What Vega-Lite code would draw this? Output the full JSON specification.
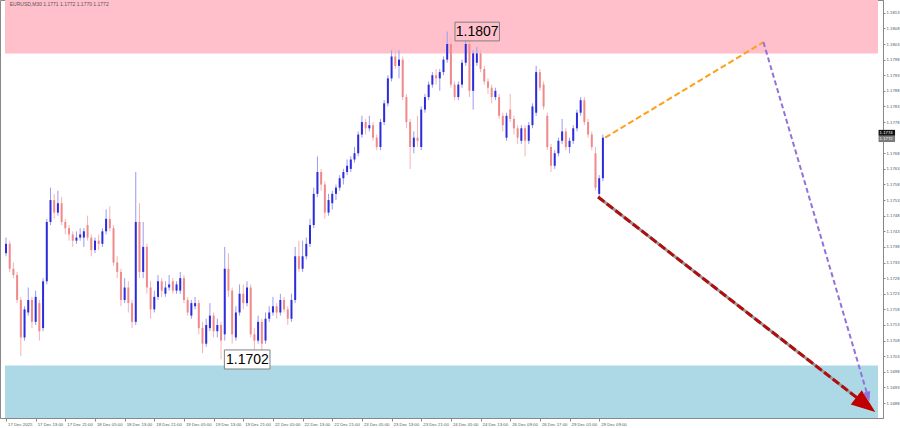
{
"$schema": "https://vega.github.io/schema/vega-lite/v6.json",
"width": 883, "height": 418,
"autosize": "none",
"padding": {"left": 0, "top": 0, "right": 17, "bottom": 10},
"background": "#ffffff",
"config": {"view": {"stroke": "#888888"}, "font": "Liberation Sans", "axis": {"labelOverlap": false}},
"resolve": {"axis": {"x": "independent", "y": "independent"}},
"datasets": {
"zones": [{"z": "sell", "p1": 1.1800, "p2": 1.18171}, {"z": "buy", "p1": 1.16832, "p2": 1.1700}],
"candles": [
{"i":0,"o":1.1736,"h":1.1741,"l":1.1735,"c":1.1739},
{"i":1,"o":1.1739,"h":1.1740,"l":1.1730,"c":1.1731},
{"i":2,"o":1.1731,"h":1.1733,"l":1.1728,"c":1.1729},
{"i":3,"o":1.1729,"h":1.1730,"l":1.1720,"c":1.1721},
{"i":4,"o":1.1721,"h":1.1722,"l":1.1703,"c":1.1709},
{"i":5,"o":1.1709,"h":1.1719,"l":1.1708,"c":1.1718},
{"i":6,"o":1.1717,"h":1.1725,"l":1.1716,"c":1.1721},
{"i":7,"o":1.1721,"h":1.1722,"l":1.1712,"c":1.1714},
{"i":8,"o":1.1714,"h":1.1724,"l":1.1713,"c":1.1722},
{"i":9,"o":1.1720,"h":1.1721,"l":1.1708,"c":1.1711},
{"i":10,"o":1.1712,"h":1.1728,"l":1.1711,"c":1.1727},
{"i":11,"o":1.1727,"h":1.1747,"l":1.1726,"c":1.1746},
{"i":12,"o":1.1746,"h":1.1757,"l":1.1745,"c":1.1753},
{"i":13,"o":1.1753,"h":1.1755,"l":1.1747,"c":1.1749},
{"i":14,"o":1.1749,"h":1.1756,"l":1.1748,"c":1.1752},
{"i":15,"o":1.1752,"h":1.1754,"l":1.1745,"c":1.1746},
{"i":16,"o":1.1746,"h":1.1747,"l":1.1742,"c":1.1744},
{"i":17,"o":1.1744,"h":1.1745,"l":1.1740,"c":1.1742},
{"i":18,"o":1.1742,"h":1.1743,"l":1.1738,"c":1.1740},
{"i":19,"o":1.1740,"h":1.1743,"l":1.1739,"c":1.1741},
{"i":20,"o":1.1741,"h":1.1744,"l":1.1740,"c":1.1742},
{"i":21,"o":1.1741,"h":1.1744,"l":1.1738,"c":1.1743},
{"i":22,"o":1.1745,"h":1.1748,"l":1.1740,"c":1.1741},
{"i":23,"o":1.1741,"h":1.1742,"l":1.1735,"c":1.1737},
{"i":24,"o":1.1737,"h":1.1741,"l":1.1736,"c":1.1740},
{"i":25,"o":1.1740,"h":1.1742,"l":1.1737,"c":1.1739},
{"i":26,"o":1.1739,"h":1.1744,"l":1.1738,"c":1.1743},
{"i":27,"o":1.1743,"h":1.1750,"l":1.1742,"c":1.1747},
{"i":28,"o":1.1747,"h":1.1751,"l":1.1743,"c":1.1744},
{"i":29,"o":1.1744,"h":1.1745,"l":1.1732,"c":1.1733},
{"i":30,"o":1.1733,"h":1.1735,"l":1.1728,"c":1.1730},
{"i":31,"o":1.1730,"h":1.1731,"l":1.1719,"c":1.1721},
{"i":32,"o":1.1721,"h":1.1728,"l":1.1720,"c":1.1725},
{"i":33,"o":1.1725,"h":1.1727,"l":1.1717,"c":1.1720},
{"i":34,"o":1.1720,"h":1.1721,"l":1.1712,"c":1.1714},
{"i":35,"o":1.1714,"h":1.1762,"l":1.1713,"c":1.1746},
{"i":36,"o":1.1746,"h":1.1752,"l":1.1728,"c":1.1730},
{"i":37,"o":1.1730,"h":1.1746,"l":1.1728,"c":1.1738},
{"i":38,"o":1.1738,"h":1.1739,"l":1.1723,"c":1.1725},
{"i":39,"o":1.1725,"h":1.1727,"l":1.1715,"c":1.1718},
{"i":40,"o":1.1718,"h":1.1724,"l":1.1717,"c":1.1722},
{"i":41,"o":1.1722,"h":1.1729,"l":1.1721,"c":1.1727},
{"i":42,"o":1.1727,"h":1.1728,"l":1.1722,"c":1.1724},
{"i":43,"o":1.1723,"h":1.1727,"l":1.1722,"c":1.1725},
{"i":44,"o":1.1725,"h":1.1729,"l":1.1724,"c":1.1726},
{"i":45,"o":1.1727,"h":1.1728,"l":1.1723,"c":1.1724},
{"i":46,"o":1.1724,"h":1.1727,"l":1.1723,"c":1.1726},
{"i":47,"o":1.1724,"h":1.1730,"l":1.1723,"c":1.1728},
{"i":48,"o":1.1728,"h":1.1729,"l":1.1720,"c":1.1721},
{"i":49,"o":1.1721,"h":1.1722,"l":1.1716,"c":1.1717},
{"i":50,"o":1.1716,"h":1.1721,"l":1.1715,"c":1.1720},
{"i":51,"o":1.1719,"h":1.1722,"l":1.1718,"c":1.1720},
{"i":52,"o":1.1720,"h":1.1721,"l":1.1710,"c":1.1712},
{"i":53,"o":1.1712,"h":1.1714,"l":1.1704,"c":1.1707},
{"i":54,"o":1.1707,"h":1.1715,"l":1.1706,"c":1.1713},
{"i":55,"o":1.1712,"h":1.1720,"l":1.1711,"c":1.1716},
{"i":56,"o":1.1716,"h":1.1717,"l":1.1709,"c":1.1711},
{"i":57,"o":1.1711,"h":1.1715,"l":1.1709,"c":1.1713},
{"i":58,"o":1.1713,"h":1.1714,"l":1.1702,"c":1.1708},
{"i":59,"o":1.1710,"h":1.1738,"l":1.1708,"c":1.1731},
{"i":60,"o":1.1731,"h":1.1736,"l":1.1722,"c":1.1724},
{"i":61,"o":1.1724,"h":1.1725,"l":1.1707,"c":1.1710},
{"i":62,"o":1.1709,"h":1.1719,"l":1.1708,"c":1.1717},
{"i":63,"o":1.1717,"h":1.1726,"l":1.1716,"c":1.1723},
{"i":64,"o":1.1723,"h":1.1726,"l":1.1718,"c":1.1720},
{"i":65,"o":1.1720,"h":1.1727,"l":1.1719,"c":1.1725},
{"i":66,"o":1.1725,"h":1.1726,"l":1.1709,"c":1.1710},
{"i":67,"o":1.1710,"h":1.1712,"l":1.1704,"c":1.1708},
{"i":68,"o":1.1708,"h":1.1716,"l":1.1707,"c":1.1714},
{"i":69,"o":1.1714,"h":1.1715,"l":1.1704,"c":1.1707},
{"i":70,"o":1.1708,"h":1.1717,"l":1.1707,"c":1.1715},
{"i":71,"o":1.1715,"h":1.1719,"l":1.1714,"c":1.1717},
{"i":72,"o":1.1717,"h":1.1722,"l":1.1716,"c":1.1719},
{"i":73,"o":1.1719,"h":1.1720,"l":1.1715,"c":1.1717},
{"i":74,"o":1.1717,"h":1.1723,"l":1.1716,"c":1.1721},
{"i":75,"o":1.1721,"h":1.1722,"l":1.1717,"c":1.1718},
{"i":76,"o":1.1718,"h":1.1719,"l":1.1713,"c":1.1715},
{"i":77,"o":1.1715,"h":1.1723,"l":1.1714,"c":1.1721},
{"i":78,"o":1.1721,"h":1.1738,"l":1.1720,"c":1.1735},
{"i":79,"o":1.1735,"h":1.1740,"l":1.1730,"c":1.1731},
{"i":80,"o":1.1731,"h":1.1740,"l":1.1730,"c":1.1735},
{"i":81,"o":1.1735,"h":1.1741,"l":1.1734,"c":1.1739},
{"i":82,"o":1.1739,"h":1.1747,"l":1.1738,"c":1.1745},
{"i":83,"o":1.1745,"h":1.1757,"l":1.1744,"c":1.1755},
{"i":84,"o":1.1755,"h":1.1767,"l":1.1754,"c":1.1762},
{"i":85,"o":1.1762,"h":1.1763,"l":1.1756,"c":1.1758},
{"i":86,"o":1.1758,"h":1.1759,"l":1.1747,"c":1.1749},
{"i":87,"o":1.1749,"h":1.1755,"l":1.1748,"c":1.1753},
{"i":88,"o":1.1752,"h":1.1756,"l":1.1750,"c":1.1755},
{"i":89,"o":1.1755,"h":1.1758,"l":1.1753,"c":1.1757},
{"i":90,"o":1.1757,"h":1.1761,"l":1.1756,"c":1.1760},
{"i":91,"o":1.1760,"h":1.1763,"l":1.1758,"c":1.1762},
{"i":92,"o":1.1762,"h":1.1766,"l":1.1761,"c":1.1764},
{"i":93,"o":1.1763,"h":1.1767,"l":1.1762,"c":1.1766},
{"i":94,"o":1.1766,"h":1.1770,"l":1.1765,"c":1.1768},
{"i":95,"o":1.1768,"h":1.1775,"l":1.1767,"c":1.1774},
{"i":96,"o":1.1774,"h":1.1780,"l":1.1773,"c":1.1778},
{"i":97,"o":1.1778,"h":1.1779,"l":1.1774,"c":1.1776},
{"i":98,"o":1.1776,"h":1.1780,"l":1.1775,"c":1.1777},
{"i":99,"o":1.1777,"h":1.1778,"l":1.1772,"c":1.1773},
{"i":100,"o":1.1773,"h":1.1774,"l":1.1769,"c":1.1770},
{"i":101,"o":1.1770,"h":1.1779,"l":1.1769,"c":1.1778},
{"i":102,"o":1.1778,"h":1.1785,"l":1.1777,"c":1.1784},
{"i":103,"o":1.1784,"h":1.1793,"l":1.1783,"c":1.1792},
{"i":104,"o":1.1792,"h":1.1801,"l":1.1791,"c":1.1799},
{"i":105,"o":1.1799,"h":1.1801,"l":1.1795,"c":1.1796},
{"i":106,"o":1.1796,"h":1.1801,"l":1.1792,"c":1.1798},
{"i":107,"o":1.1798,"h":1.1799,"l":1.1785,"c":1.1786},
{"i":108,"o":1.1786,"h":1.1787,"l":1.1776,"c":1.1778},
{"i":109,"o":1.1778,"h":1.1779,"l":1.1763,"c":1.1770},
{"i":110,"o":1.1770,"h":1.1775,"l":1.1768,"c":1.1773},
{"i":111,"o":1.1773,"h":1.1780,"l":1.1770,"c":1.1772},
{"i":112,"o":1.1770,"h":1.1783,"l":1.1769,"c":1.1782},
{"i":113,"o":1.1782,"h":1.1787,"l":1.1781,"c":1.1786},
{"i":114,"o":1.1786,"h":1.1791,"l":1.1785,"c":1.1790},
{"i":115,"o":1.1790,"h":1.1794,"l":1.1789,"c":1.1793},
{"i":116,"o":1.1793,"h":1.1795,"l":1.1790,"c":1.1792},
{"i":117,"o":1.1792,"h":1.1795,"l":1.1788,"c":1.1794},
{"i":118,"o":1.1794,"h":1.1799,"l":1.1793,"c":1.1798},
{"i":119,"o":1.1798,"h":1.1807,"l":1.1797,"c":1.1803},
{"i":120,"o":1.1803,"h":1.1806,"l":1.1789,"c":1.1790},
{"i":121,"o":1.1790,"h":1.1791,"l":1.1785,"c":1.1786},
{"i":122,"o":1.1786,"h":1.1791,"l":1.1785,"c":1.1790},
{"i":123,"o":1.1790,"h":1.1798,"l":1.1789,"c":1.1797},
{"i":124,"o":1.1797,"h":1.1804,"l":1.1796,"c":1.1803},
{"i":125,"o":1.1803,"h":1.1804,"l":1.1786,"c":1.1788},
{"i":126,"o":1.1788,"h":1.1801,"l":1.1782,"c":1.1800},
{"i":127,"o":1.1797,"h":1.1802,"l":1.1796,"c":1.1800},
{"i":128,"o":1.1800,"h":1.1801,"l":1.1794,"c":1.1795},
{"i":129,"o":1.1795,"h":1.1796,"l":1.1790,"c":1.1791},
{"i":130,"o":1.1791,"h":1.1792,"l":1.1787,"c":1.1789},
{"i":131,"o":1.1789,"h":1.1790,"l":1.1784,"c":1.1786},
{"i":132,"o":1.1786,"h":1.1789,"l":1.1785,"c":1.1788},
{"i":133,"o":1.1786,"h":1.1787,"l":1.1779,"c":1.1780},
{"i":134,"o":1.1780,"h":1.1781,"l":1.1775,"c":1.1777},
{"i":135,"o":1.1773,"h":1.1781,"l":1.1772,"c":1.1780},
{"i":136,"o":1.1782,"h":1.1787,"l":1.1778,"c":1.1779},
{"i":137,"o":1.1779,"h":1.1780,"l":1.1774,"c":1.1776},
{"i":138,"o":1.1776,"h":1.1777,"l":1.1771,"c":1.1773},
{"i":139,"o":1.1772,"h":1.1777,"l":1.1771,"c":1.1776},
{"i":140,"o":1.1776,"h":1.1777,"l":1.1767,"c":1.1772},
{"i":141,"o":1.1772,"h":1.1778,"l":1.1771,"c":1.1777},
{"i":142,"o":1.1777,"h":1.1784,"l":1.1776,"c":1.1783},
{"i":143,"o":1.1781,"h":1.1796,"l":1.1780,"c":1.1794},
{"i":144,"o":1.1794,"h":1.1795,"l":1.1788,"c":1.1789},
{"i":145,"o":1.1790,"h":1.1791,"l":1.1782,"c":1.1783},
{"i":146,"o":1.1780,"h":1.1781,"l":1.1769,"c":1.1770},
{"i":147,"o":1.1770,"h":1.1771,"l":1.1762,"c":1.1764},
{"i":148,"o":1.1764,"h":1.1769,"l":1.1763,"c":1.1768},
{"i":149,"o":1.1768,"h":1.1773,"l":1.1767,"c":1.1772},
{"i":150,"o":1.1772,"h":1.1779,"l":1.1771,"c":1.1775},
{"i":151,"o":1.1775,"h":1.1776,"l":1.1769,"c":1.1770},
{"i":152,"o":1.1770,"h":1.1773,"l":1.1768,"c":1.1772},
{"i":153,"o":1.1772,"h":1.1777,"l":1.1771,"c":1.1776},
{"i":154,"o":1.1776,"h":1.1782,"l":1.1775,"c":1.1781},
{"i":155,"o":1.1781,"h":1.1786,"l":1.1780,"c":1.1785},
{"i":156,"o":1.1785,"h":1.1786,"l":1.1777,"c":1.1778},
{"i":157,"o":1.1778,"h":1.1779,"l":1.1773,"c":1.1774},
{"i":158,"o":1.1774,"h":1.1775,"l":1.1769,"c":1.1770},
{"i":159,"o":1.1768,"h":1.1770,"l":1.1756,"c":1.1757},
{"i":160,"o":1.1755,"h":1.1761,"l":1.1754,"c":1.1760},
{"i":161,"o":1.1760,"h":1.1774,"l":1.1759,"c":1.1773}
],
"paths": [
{"s": "orange", "i": 161.6, "p": 1.1773}, {"s": "orange", "i": 204.3, "p": 1.18036},
{"s": "purple", "i": 204.3, "p": 1.18036}, {"s": "purple", "i": 232.5, "p": 1.1690},
{"s": "red", "i": 159.7, "p": 1.1754}, {"s": "red", "i": 231.9, "p": 1.16875}
],
"heads": [
{"s": "red", "i": 231.9, "p": 1.16875},
{"s": "purple", "i": 232.5, "p": 1.1690}
],
"notes": [
{"t": "1.1807", "x1": 121.1, "x2": 133.1, "p1": 1.1804, "p2": 1.1810, "xm": 127.1, "pm": 1.1807},
{"t": "1.1702", "x1": 58.9, "x2": 71.2, "p1": 1.16989, "p2": 1.1705, "xm": 65.1, "pm": 1.17019}
],
"tags": [
{"t": "1.1774", "p1": 1.17736, "p2": 1.17755, "pm": 1.177455},
{"t": "1.1772", "p1": 1.17716, "p2": 1.17736, "pm": 1.17726}
],
"title": [{"t": "EURUSD,M30  1.1771 1.1772 1.1770 1.1772"}]
},
"layer": [
{
"data": {"name": "zones"},
"mark": {"type": "rect", "clip": true},
"encoding": {
"x": {"datum": -0.27, "type": "quantitative", "scale": {"domain": [-0.27, 235.2], "nice": false, "zero": false},
 "axis": {"orient": "bottom", "title": null, "grid": false, "values": [0,8,16,24,32,40,48,56,64,72,80,88,96,104,112,120,128,136,144,152,160],
  "labelExpr": "['17 Dec 2025','17 Dec 13:00','17 Dec 21:00','18 Dec 05:00','18 Dec 13:00','18 Dec 21:00','19 Dec 05:00','19 Dec 13:00','19 Dec 21:00','22 Dec 05:00','22 Dec 13:00','22 Dec 21:00','23 Dec 05:00','23 Dec 13:00','23 Dec 21:00','24 Dec 05:00','24 Dec 13:00','26 Dec 09:00','26 Dec 17:00','29 Dec 01:00','29 Dec 09:00'][datum.value/8]",
  "labelAlign": "left", "labelBaseline": "top", "labelFontSize": 4.3, "labelColor": "#555555", "labelPadding": 1, "labelOffset": 1.5,
  "labelOverlap": false, "labelFlush": false, "labelBound": false, "tickSize": 3, "tickColor": "#888888", "domainColor": "#888888"}},
"x2": {"datum": 235.2},
"y": {"field": "p1", "type": "quantitative", "scale": {"domain": [1.16832, 1.18171], "nice": false, "zero": false},
 "axis": {"orient": "right", "title": null, "grid": false,
  "values": [1.1688,1.1693,1.1698,1.1703,1.1708,1.1713,1.1718,1.1723,1.1728,1.1733,1.1738,1.1743,1.1748,1.1753,1.1758,1.1763,1.1768,1.1778,1.1783,1.1788,1.1793,1.1798,1.1803,1.1808,1.1813],
  "format": ".4f", "labelFontSize": 4.3, "labelColor": "#555555", "labelPadding": 1, "tickSize": 2, "tickColor": "#888888", "domainColor": "#888888", "labelOverlap": false, "labelBound": false, "labelFlush": false}},
"y2": {"field": "p2"},
"color": {"condition": {"test": "datum.z == 'sell'", "value": "#ffc0cb"}, "value": "#add8e6"}
}
},
{
"data": {"name": "candles"},
"mark": {"type": "rule", "strokeWidth": 1},
"encoding": {
"x": {"field": "i", "type": "quantitative", "scale": {"domain": [-0.27, 235.2], "nice": false, "zero": false}, "axis": null},
"y": {"field": "l", "type": "quantitative", "scale": {"domain": [1.16832, 1.18171], "nice": false, "zero": false}, "axis": null},
"y2": {"field": "h"},
"color": {"condition": {"test": "datum.c >= datum.o", "value": "#9a9af0"}, "value": "#f4b4b4"}
}
},
{
"data": {"name": "candles"},
"mark": {"type": "bar", "size": 2},
"encoding": {
"x": {"field": "i", "type": "quantitative", "scale": {"domain": [-0.27, 235.2], "nice": false, "zero": false}, "axis": null},
"y": {"field": "o", "type": "quantitative", "scale": {"domain": [1.16832, 1.18171], "nice": false, "zero": false}, "axis": null},
"y2": {"field": "c"},
"color": {"condition": {"test": "datum.c >= datum.o", "value": "#2c2cdc"}, "value": "#f08a8a"}
}
},
{
"data": {"name": "paths"},
"transform": [{"filter": "datum.s == 'red'"}],
"mark": {"type": "line", "color": "#9a9a9a", "strokeWidth": 3},
"encoding": {
"x": {"field": "i", "type": "quantitative", "scale": {"domain": [-0.27, 235.2], "nice": false, "zero": false}, "axis": null},
"y": {"field": "p", "type": "quantitative", "scale": {"domain": [1.16832, 1.18171], "nice": false, "zero": false}, "axis": null}
}
},
{
"data": {"name": "paths"},
"transform": [{"filter": "datum.s == 'red'"}],
"mark": {"type": "line", "color": "#b00d0d", "strokeWidth": 3, "strokeDash": [8, 3]},
"encoding": {
"x": {"field": "i", "type": "quantitative", "scale": {"domain": [-0.27, 235.2], "nice": false, "zero": false}, "axis": null},
"y": {"field": "p", "type": "quantitative", "scale": {"domain": [1.16832, 1.18171], "nice": false, "zero": false}, "axis": null}
}
},
{
"data": {"name": "paths"},
"transform": [{"filter": "datum.s == 'orange'"}],
"mark": {"type": "line", "color": "#ff9f1a", "strokeWidth": 2, "strokeDash": [6, 3]},
"encoding": {
"x": {"field": "i", "type": "quantitative", "scale": {"domain": [-0.27, 235.2], "nice": false, "zero": false}, "axis": null},
"y": {"field": "p", "type": "quantitative", "scale": {"domain": [1.16832, 1.18171], "nice": false, "zero": false}, "axis": null}
}
},
{
"data": {"name": "paths"},
"transform": [{"filter": "datum.s == 'purple'"}],
"mark": {"type": "line", "color": "#9370db", "strokeWidth": 2, "strokeDash": [5, 3]},
"encoding": {
"x": {"field": "i", "type": "quantitative", "scale": {"domain": [-0.27, 235.2], "nice": false, "zero": false}, "axis": null},
"y": {"field": "p", "type": "quantitative", "scale": {"domain": [1.16832, 1.18171], "nice": false, "zero": false}, "axis": null}
}
},
{
"data": {"name": "heads"},
"mark": {"type": "point", "filled": true, "shape": "M0,-1L0.75,1L-0.75,1Z", "opacity": 1},
"encoding": {
"x": {"field": "i", "type": "quantitative", "scale": {"domain": [-0.27, 235.2], "nice": false, "zero": false}, "axis": null},
"y": {"field": "p", "type": "quantitative", "scale": {"domain": [1.16832, 1.18171], "nice": false, "zero": false}, "axis": null},
"color": {"condition": {"test": "datum.s == 'red'", "value": "#c00000"}, "value": "#9370db"},
"size": {"condition": {"test": "datum.s == 'red'", "value": 576}, "value": 100},
"angle": {"condition": {"test": "datum.s == 'red'", "value": 127.5}, "value": 163.4}
}
},
{
"data": {"name": "notes"},
"mark": {"type": "rect", "stroke": "#808080", "strokeWidth": 1, "fill": "#ffffff"},
"encoding": {
"x": {"field": "x1", "type": "quantitative", "scale": {"domain": [-0.27, 235.2], "nice": false, "zero": false}, "axis": null},
"x2": {"field": "x2"},
"y": {"field": "p1", "type": "quantitative", "scale": {"domain": [1.16832, 1.18171], "nice": false, "zero": false}, "axis": null},
"y2": {"field": "p2"},
"fillOpacity": {"condition": {"test": "datum.t == '1.1702'", "value": 1}, "value": 0}
}
},
{
"data": {"name": "notes"},
"mark": {"type": "text", "fontSize": 14, "color": "#000000", "align": "center", "baseline": "middle", "font": "Liberation Sans"},
"encoding": {
"x": {"field": "xm", "type": "quantitative", "scale": {"domain": [-0.27, 235.2], "nice": false, "zero": false}, "axis": null},
"y": {"field": "pm", "type": "quantitative", "scale": {"domain": [1.16832, 1.18171], "nice": false, "zero": false}, "axis": null},
"text": {"field": "t"}
}
},
{
"data": {"name": "tags"},
"mark": {"type": "rect"},
"encoding": {
"x": {"datum": 235.35, "type": "quantitative", "scale": {"domain": [-0.27, 235.2], "nice": false, "zero": false}, "axis": null},
"x2": {"datum": 239.8},
"y": {"field": "p1", "type": "quantitative", "scale": {"domain": [1.16832, 1.18171], "nice": false, "zero": false}, "axis": null},
"y2": {"field": "p2"},
"color": {"condition": {"test": "datum.t == '1.1774'", "value": "#111111"}, "value": "#7a7a7a"}
}
},
{
"data": {"name": "tags"},
"mark": {"type": "text", "fontSize": 4.3, "color": "#ffffff", "align": "left", "baseline": "middle", "dx": 1},
"encoding": {
"x": {"datum": 235.35, "type": "quantitative", "scale": {"domain": [-0.27, 235.2], "nice": false, "zero": false}, "axis": null},
"y": {"field": "pm", "type": "quantitative", "scale": {"domain": [1.16832, 1.18171], "nice": false, "zero": false}, "axis": null},
"text": {"field": "t"}
}
},
{
"data": {"name": "title"},
"mark": {"type": "text", "fontSize": 5, "color": "#555555", "align": "left", "baseline": "middle"},
"encoding": {
"x": {"datum": 1.0, "type": "quantitative", "scale": {"domain": [-0.27, 235.2], "nice": false, "zero": false}, "axis": null},
"y": {"datum": 1.18158, "type": "quantitative", "scale": {"domain": [1.16832, 1.18171], "nice": false, "zero": false}, "axis": null},
"text": {"field": "t"}
}
}
]
}
